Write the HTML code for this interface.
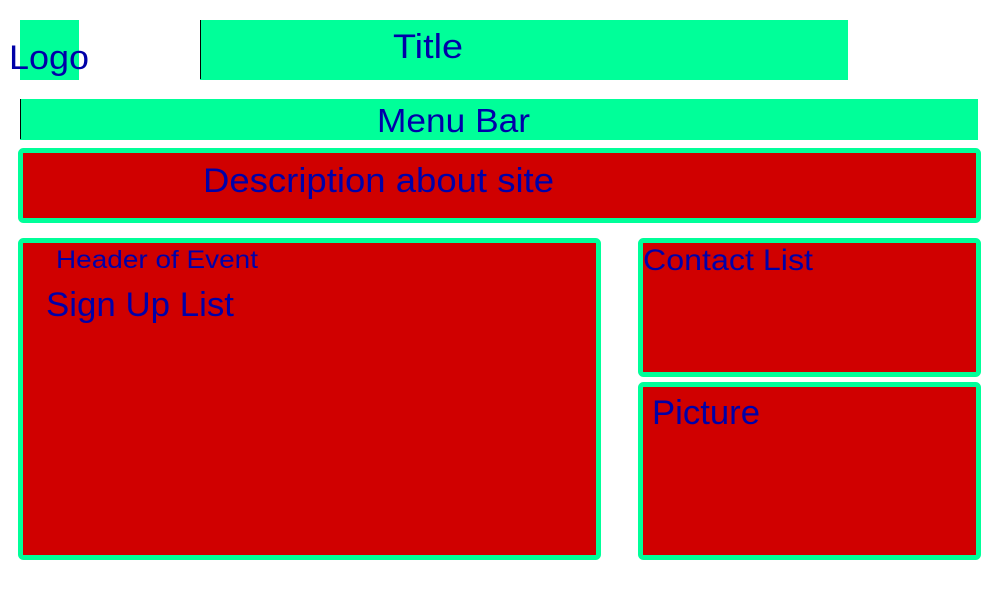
<!DOCTYPE html>
<html><head><style>html,body{margin:0;padding:0;background:#fff;width:1000px;height:600px;overflow:hidden}</style></head>
<body>
<svg width="1000" height="600" xmlns="http://www.w3.org/2000/svg" font-family="Liberation Sans, sans-serif" fill="#0000a8">
<rect x="20" y="20" width="59" height="60" fill="#00ff99"/>
<rect x="200" y="20" width="648" height="60" fill="#00ff99"/>
<line x1="200.5" y1="20" x2="200.5" y2="79" stroke="#000" stroke-width="1"/>
<rect x="20" y="99" width="958" height="41" fill="#00ff99"/>
<line x1="20.5" y1="99" x2="20.5" y2="139" stroke="#000" stroke-width="1"/>
<rect x="20.5" y="150.5" width="958" height="70" rx="3" fill="#d00000" stroke="#00ff99" stroke-width="5"/>
<rect x="20.5" y="240.5" width="578" height="317" rx="3" fill="#d00000" stroke="#00ff99" stroke-width="5"/>
<rect x="640.5" y="240.5" width="338" height="134" rx="3" fill="#d00000" stroke="#00ff99" stroke-width="5"/>
<rect x="640.5" y="384.5" width="338" height="173" rx="3" fill="#d00000" stroke="#00ff99" stroke-width="5"/>
<g fill="#0000a8">
<text x="9" y="69" font-size="34" textLength="80" lengthAdjust="spacingAndGlyphs">Logo</text>
<text x="393" y="58" font-size="34" textLength="70" lengthAdjust="spacingAndGlyphs">Title</text>
<text x="377" y="132" font-size="33" textLength="153" lengthAdjust="spacingAndGlyphs">Menu Bar</text>
<text x="203" y="192" font-size="34" textLength="351" lengthAdjust="spacingAndGlyphs">Description about site</text>
<text x="56" y="268" font-size="25" textLength="202" lengthAdjust="spacingAndGlyphs">Header of Event</text>
<text x="46" y="316" font-size="34" textLength="188" lengthAdjust="spacingAndGlyphs">Sign Up List</text>
<text x="643" y="270" font-size="30" textLength="170" lengthAdjust="spacingAndGlyphs">Contact List</text>
<text x="652" y="424" font-size="34" textLength="108" lengthAdjust="spacingAndGlyphs">Picture</text>
</g>
</svg>
</body></html>
